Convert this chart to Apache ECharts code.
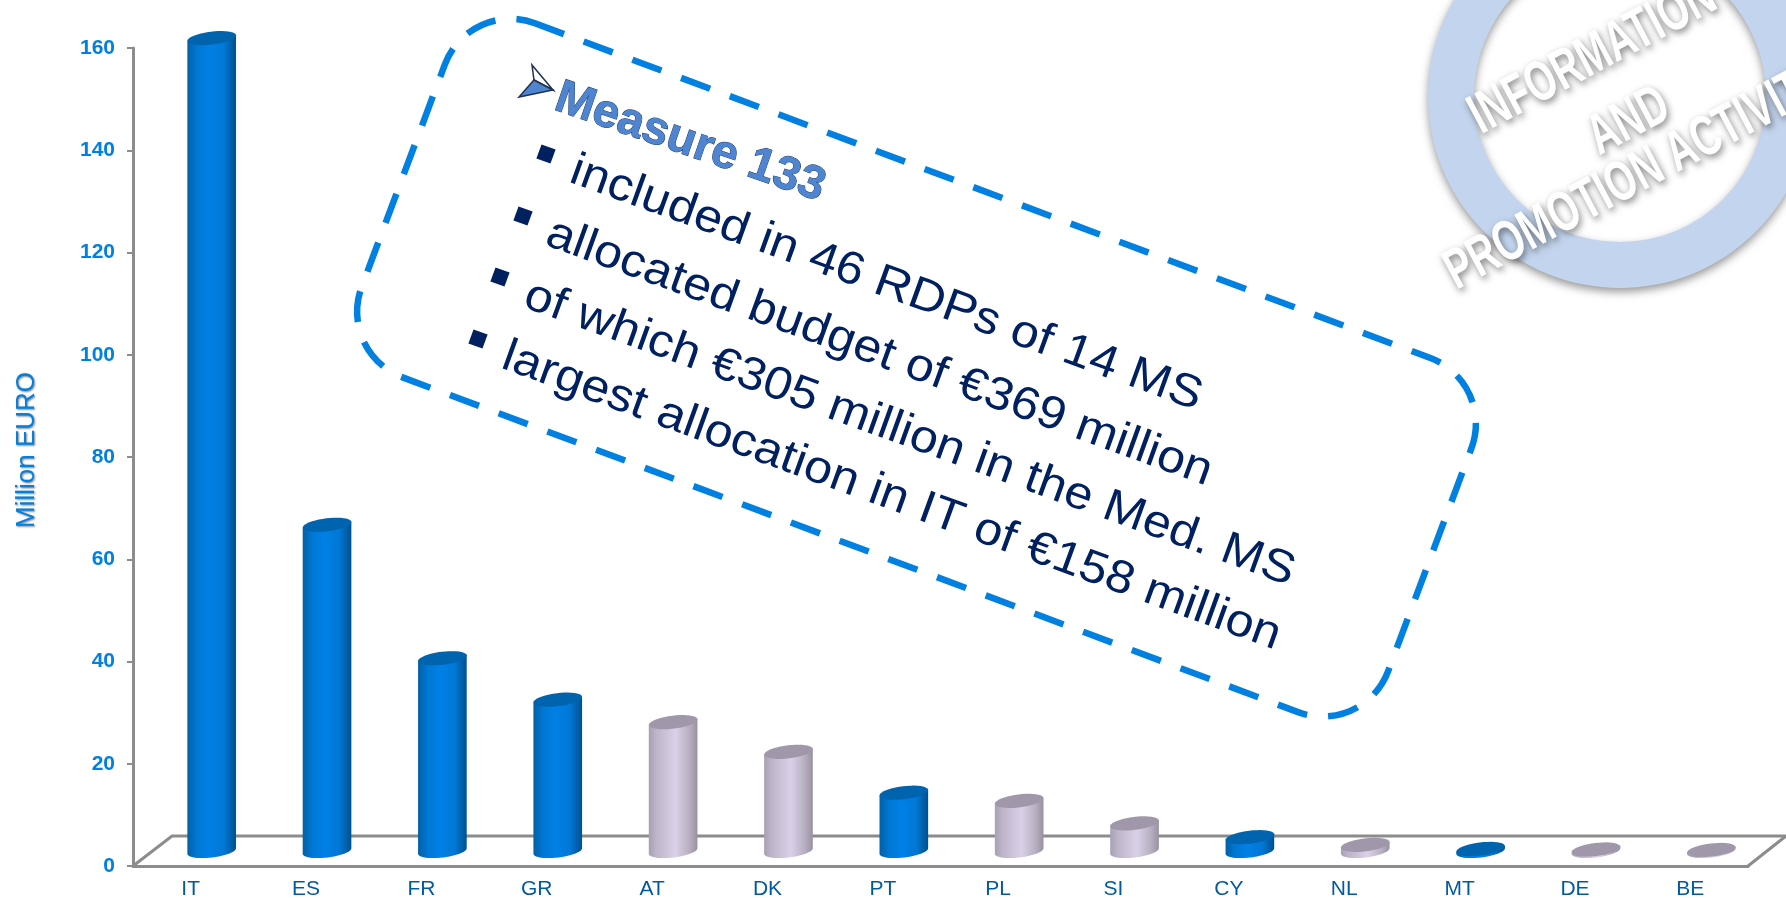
<!DOCTYPE html>
<html>
<head>
<meta charset="utf-8">
<title>Measure 133</title>
<style>
  html, body { margin: 0; padding: 0; background: #fff; }
  #chart { width: 1786px; height: 898px; }
</style>
<script src="https://cdn.jsdelivr.net/npm/echarts@6/dist/echarts.min.js"></script>
</head>
<body>
<div id="chart"></div>
<script>
  const categories = ['IT', 'ES', 'FR', 'GR', 'AT', 'DK', 'PT', 'PL', 'SI', 'CY', 'NL', 'MT', 'DE', 'BE'];
  const values = [159, 63.8, 37.7, 29.6, 25.2, 19.4, 11.4, 9.8, 5.4, 2.7, 1.2, 0.4, 0.3, 0.2];
  const medStates = ['IT', 'ES', 'FR', 'GR', 'PT', 'CY', 'MT'];
  const yTicks = { min: 0, max: 160, interval: 20 };
  const yName = 'Million EURO';
  const heading = 'Measure 133';
  const bullets = [
    'included in 46 RDPs of 14 MS',
    'allocated budget of €369 million',
    'of which €305 million in the Med. MS',
    'largest allocation in IT of €158 million'
  ];
  const stamp = ['INFORMATION', 'AND', 'PROMOTION ACTIVITIES'];

  const FONT = '"Liberation Sans", Arial, sans-serif';
  const BLUE = '#0080e0';
  const NAVY = '#002060';
  const AXIS_GREY = '#8c8c8c';
  const deg = d => d * Math.PI / 180;

  // cylinder look: the 3d floor pushes every bar right and up from its tick
  const DEPTH_X = 21, DEPTH_Y = -15, RX = 24.5, RY = 6.5, TILT = deg(7);

  function ellipsePts(cx, cy, from, to, n) {
    let pts = [];
    for (let i = 0; i <= n; i++) {
      let t = from + (to - from) * i / n;
      pts.push([
        cx + RX * Math.cos(t) * Math.cos(TILT) + RY * Math.sin(t) * Math.sin(TILT),
        cy - RX * Math.cos(t) * Math.sin(TILT) + RY * Math.sin(t) * Math.cos(TILT)
      ]);
    }
    return pts;
  }

  function sideGradient(stops) {
    return new echarts.graphic.LinearGradient(0, 0, 1, 0, stops);
  }

  const blueLook = {
    body: sideGradient([
      { offset: 0, color: '#0060a8' }, { offset: 0.2, color: '#0078d4' },
      { offset: 0.45, color: '#0080e6' }, { offset: 0.75, color: '#0078d6' }, { offset: 1, color: '#00508c' }
    ]),
    top: '#0063ad'
  };
  const lilacLook = {
    body: sideGradient([
      { offset: 0, color: '#a79fb2' }, { offset: 0.15, color: '#bdb4c9' },
      { offset: 0.55, color: '#dad0e8' }, { offset: 0.85, color: '#b5adbf' }, { offset: 1, color: '#99919f' }
    ]),
    top: '#a097aa'
  };

  function renderCylinder(params, api) {
    let idx = api.value(0);
    let base = api.coord([idx, 0]);
    let head = api.coord([idx, api.value(1)]);
    let cx = base[0] + DEPTH_X;
    let baseY = base[1] + DEPTH_Y;
    let topY = head[1] + DEPTH_Y;
    let look = medStates.includes(categories[idx]) ? blueLook : lilacLook;

    let topEnds = ellipsePts(cx, topY, 0, Math.PI, 1);
    let bodyPts = [topEnds[0]].concat(ellipsePts(cx, baseY, 0, Math.PI, 24), [topEnds[1]]);

    return {
      type: 'group',
      children: [
        { type: 'polygon', shape: { points: bodyPts }, style: { fill: look.body } },
        { type: 'polygon', shape: { points: ellipsePts(cx, topY, 0, Math.PI * 2, 40) }, style: { fill: look.top } }
      ]
    };
  }

  function floorLine(points) {
    return {
      type: 'polyline', z: 0, silent: true,
      shape: { points: points },
      style: { fill: 'none', stroke: AXIS_GREY, lineWidth: 3 }
    };
  }

  function calloutText(text, x, y, size, scaleX) {
    return {
      type: 'text', z: 11, silent: true, x: x, y: y, rotation: deg(-20), scaleX: scaleX,
      style: { text: text, font: size + 'px ' + FONT, fill: NAVY, textAlign: 'left', textVerticalAlign: 'bottom' }
    };
  }

  function bulletMark(x, y) {
    return {
      type: 'rect', z: 11, silent: true, x: x, y: y, rotation: deg(-20),
      shape: { x: -7.5, y: -7.5, width: 15, height: 15 },
      style: { fill: NAVY }
    };
  }

  function stampText(text, x, y, align, scaleX) {
    return {
      type: 'text', z: 12, silent: true, x: x, y: y, rotation: deg(28), scaleX: scaleX,
      style: {
        text: text, font: 'bold 57px ' + FONT, fill: '#fff', textAlign: align, textVerticalAlign: 'middle',
        textShadowColor: 'rgba(0,0,0,0.5)', textShadowBlur: 7, textShadowOffsetX: 2, textShadowOffsetY: 3
      }
    };
  }

  const bulletAt = [[546, 154], [523, 216], [500, 277], [478, 339]];
  const bulletTextAt = [[564, 191], [540, 254], [518, 316], [496, 377]];

  const chart = echarts.init(document.getElementById('chart'));

  chart.setOption({
    animation: false,
    backgroundColor: '#fff',
    grid: { left: 133, right: 38, top: 48, bottom: 32, outerBoundsMode: 'none' },
    xAxis: {
      type: 'category',
      data: categories,
      axisLine: { lineStyle: { color: AXIS_GREY, width: 3 } },
      axisTick: { length: 6, lineStyle: { color: AXIS_GREY, width: 2 } },
      axisLabel: { color: '#005a9e', fontFamily: FONT, fontSize: 21, margin: 13, interval: 0 }
    },
    yAxis: {
      type: 'value',
      min: yTicks.min,
      max: yTicks.max,
      interval: yTicks.interval,
      name: yName,
      nameLocation: 'middle',
      nameGap: 93,
      nameRotate: 90,
      nameTextStyle: {
        color: BLUE, fontFamily: FONT, fontSize: 26, padding: [0, 0, 0, 14],
        textShadowColor: 'rgba(0,0,0,0.5)', textShadowBlur: 2, textShadowOffsetX: 1, textShadowOffsetY: 1
      },
      splitLine: { show: false },
      axisLine: { show: true, lineStyle: { color: AXIS_GREY, width: 3 } },
      axisTick: { show: true, length: 6, lineStyle: { color: AXIS_GREY, width: 2 } },
      axisLabel: { color: BLUE, fontFamily: FONT, fontSize: 21, fontWeight: 'bold', margin: 18 }
    },
    series: [{
      type: 'custom',
      name: yName,
      renderItem: renderCylinder,
      encode: { x: 0, y: 1 },
      clip: false,
      data: categories.map((c, i) => [i, values[i]])
    }],
    graphic: { elements: [
      floorLine([[133, 866], [172, 836], [1786, 836]]),
      floorLine([[1748, 866], [1786, 836]]),

      {
        type: 'ring', z: 10, silent: true,
        shape: { cx: 1620, cy: 96, r: 192, r0: 146 },
        style: { fill: '#c3d5ee', shadowColor: 'rgba(0,0,0,0.4)', shadowBlur: 8, shadowOffsetY: 4 }
      },
      {
        type: 'rect', z: 10, silent: true, x: 916.5, y: 367.7, rotation: deg(-20.5),
        shape: { x: -548, y: -189, width: 1096, height: 378, r: 70 },
        style: { fill: 'none', stroke: BLUE, lineWidth: 6.5, lineDash: [31, 21] }
      },
      {
        type: 'polygon', z: 11, silent: true,
        shape: { points: [[553, 90], [532, 65], [534, 80]] },
        style: { fill: '#fff', stroke: '#1f3050', lineWidth: 1.5 }
      },
      {
        type: 'polygon', z: 11, silent: true,
        shape: { points: [[553, 90], [534, 80], [519, 97]] },
        style: { fill: '#4f85d0', stroke: '#1f3050', lineWidth: 1.5 }
      },
      {
        type: 'text', z: 11, silent: true, x: 549, y: 119, rotation: deg(-19),
        style: {
          text: heading, font: 'bold 47px ' + FONT, fill: '#4f85d0', stroke: '#1f3f70', lineWidth: 1,
          textAlign: 'left', textVerticalAlign: 'bottom'
        }
      },
      ...bullets.map((t, i) => bulletMark(bulletAt[i][0], bulletAt[i][1])),
      ...bullets.map((t, i) => calloutText(t, bulletTextAt[i][0], bulletTextAt[i][1], 46, 1.09)),

      stampText(stamp[0], 1593, 57, 'center', 0.68),
      stampText(stamp[1], 1629, 122, 'center', 0.68),
      stampText(stamp[2], 1449, 276, 'left', 0.68)
    ] }
  });
</script>
</body>
</html>
